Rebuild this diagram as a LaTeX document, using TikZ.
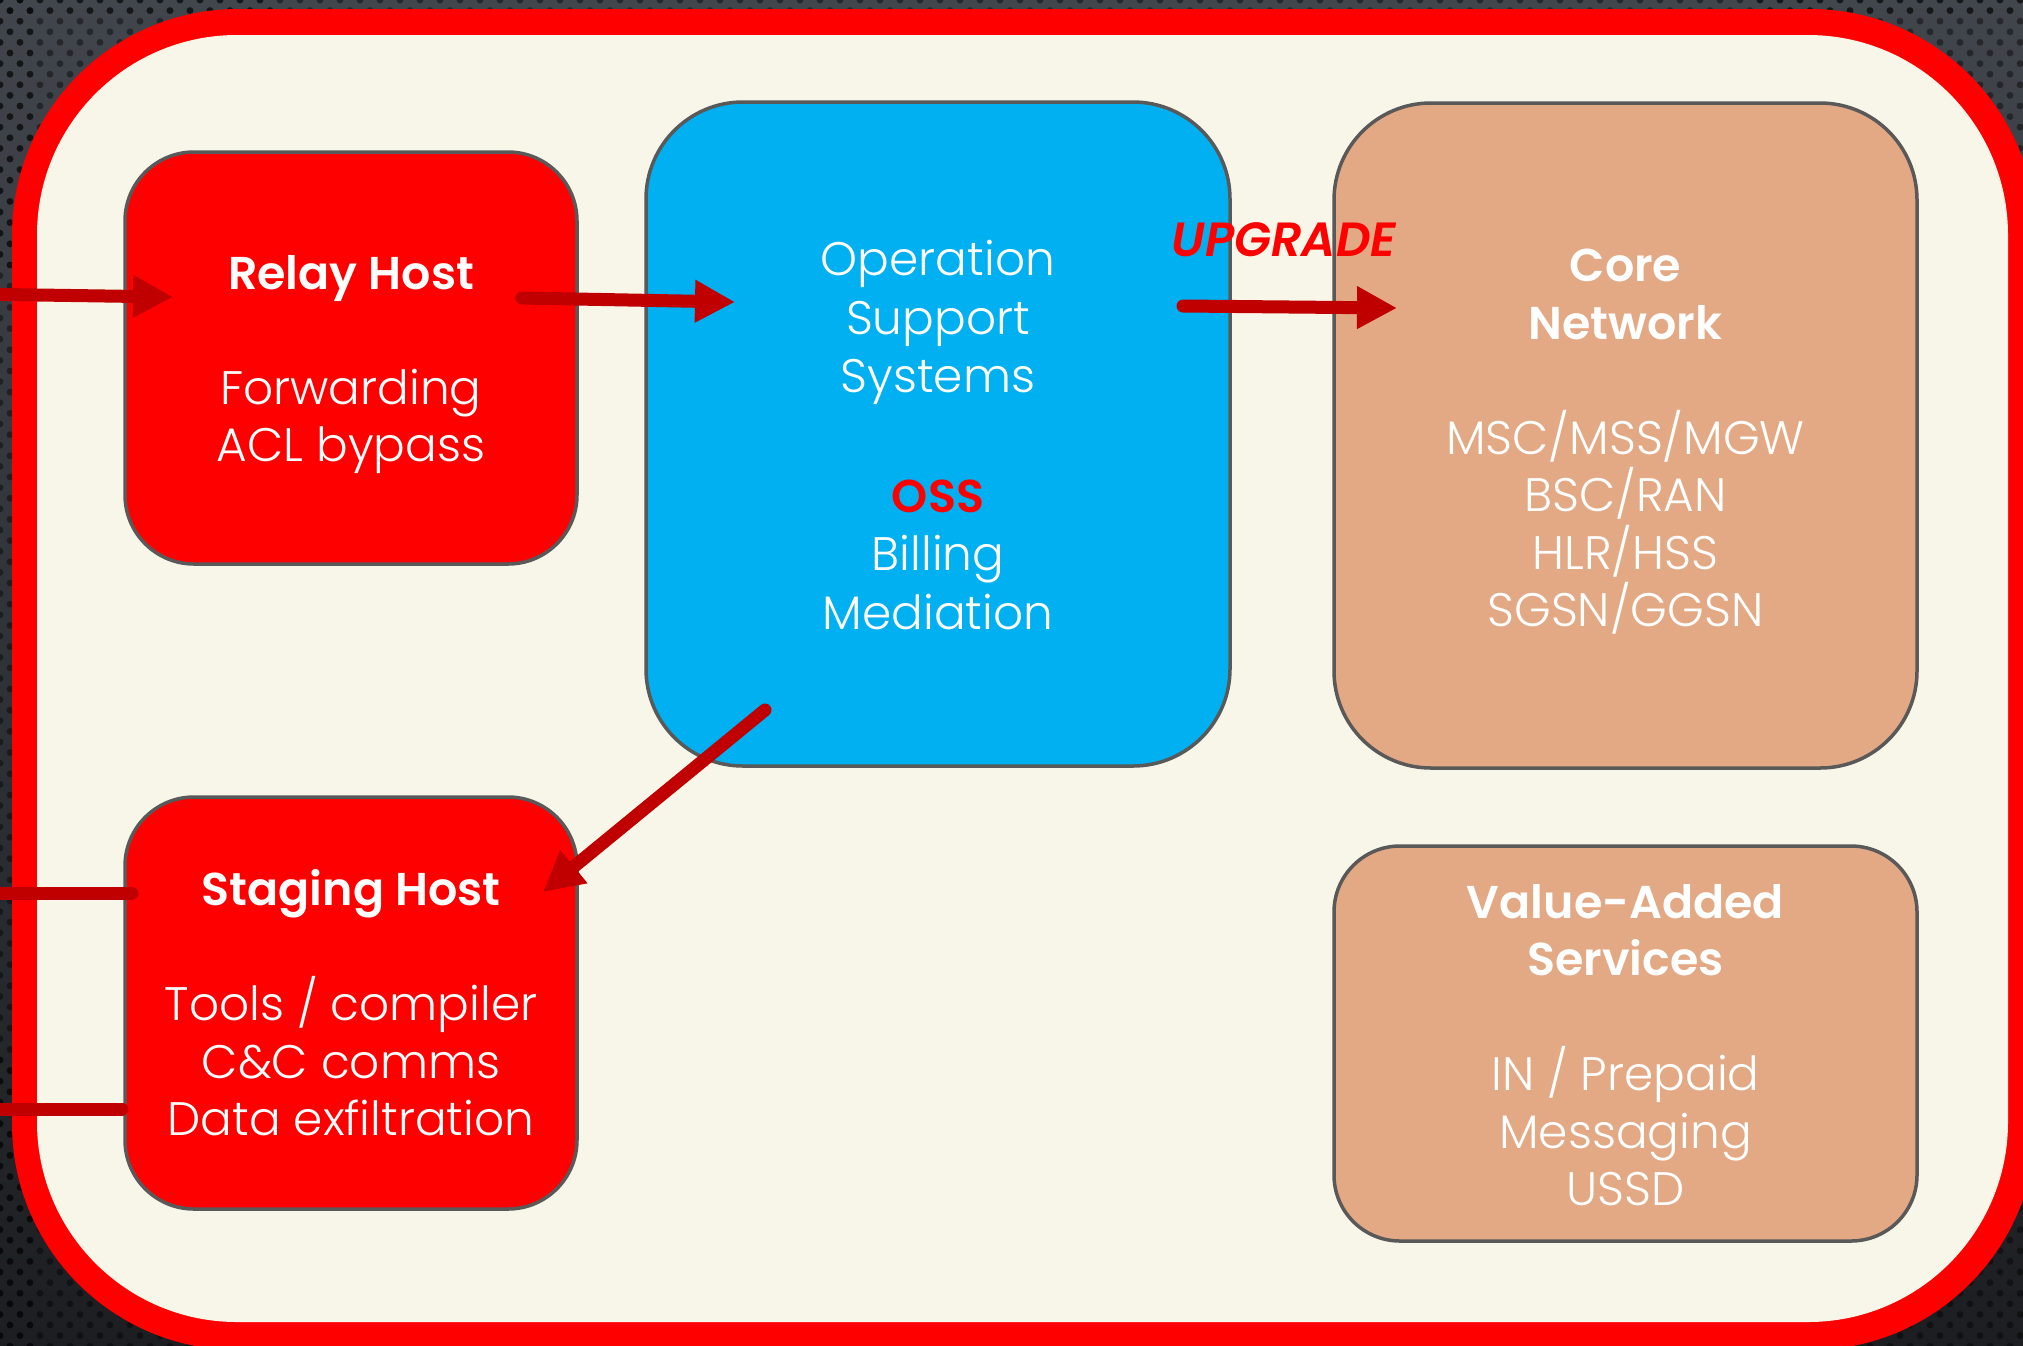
\documentclass[tikz,border=0pt]{standalone}
\usepackage{fontspec}
\setmainfont{Poppins}[UprightFont={* Light},BoldFont={* SemiBold},ItalicFont={* Light Italic},BoldItalicFont={* SemiBold Italic}]
\usetikzlibrary{arrows.meta}
\definecolor{bgtop}{HTML}{41454C}
\definecolor{bgbot}{HTML}{1C1E21}
\definecolor{framered}{HTML}{FF0000}
\definecolor{cream}{HTML}{F8F6E8}
\definecolor{boxred}{HTML}{FF0000}
\definecolor{ossblue}{HTML}{00B0F0}
\definecolor{tan}{HTML}{E3A985}
\definecolor{edge}{HTML}{595959}
\definecolor{arrowred}{HTML}{C00000}
\definecolor{labelred}{HTML}{FF0000}
\newcommand\dotfield[4]{\foreach \i in {#3,...,#4}{\foreach \j in {#1,...,#2}{\fill[black,opacity=.42] ({\j*20+mod(\i,2)*10},{\i*10.6}) circle[radius=3.4];}}}
\begin{document}
\begin{tikzpicture}[x=1pt,y=-1pt,
  box/.style={draw=edge, line width=3.5pt, inner sep=0pt},
  boxtext/.style={text=white, align=center, inner sep=0pt,
    font=\fontsize{47}{57.5}\selectfont},
  conn/.style={draw=arrowred, line width=13pt, line cap=round,
    -{Triangle[length=40pt,width=40pt]}},
  plainconn/.style={draw=arrowred, line width=13pt, line cap=round}]
\useasboundingbox (0,0) rectangle (2023,1345);
% background
\shade[top color=bgtop,bottom color=bgbot] (0,0) rectangle (2023,1345);
\dotfield{0}{101}{0}{1}
\dotfield{0}{1}{0}{127}
\dotfield{0}{13}{0}{25}
\dotfield{88}{101}{0}{25}
\dotfield{0}{13}{100}{127}
\dotfield{88}{101}{100}{127}
% frame
\fill[framered, rounded corners=226pt] (12,9) rectangle (2036,1350);
\fill[cream, rounded corners=200pt] (37,35) rectangle (2008,1322);
% boxes
\node[box, fill=boxred, minimum width=452pt, minimum height=412pt, rounded corners=69pt]
  (relay) at (351,358) {};
\node[box, fill=boxred, minimum width=452pt, minimum height=412pt, rounded corners=69pt]
  (staging) at (351,1003) {};
\node[box, fill=ossblue, minimum width=584pt, minimum height=664pt, rounded corners=97pt]
  (oss) at (938,434) {};
\node[box, fill=tan, minimum width=583pt, minimum height=665pt, rounded corners=97pt]
  (core) at (1625.5,435.5) {};
\node[box, fill=tan, minimum width=583pt, minimum height=395pt, rounded corners=66pt]
  (vas) at (1625.5,1043.5) {};
% box texts
\node[boxtext] (relaytxt) at ([yshift=-6.5pt]relay.center)
  {{\fontsize{46}{57.5}\selectfont\bfseries Relay Host}\\[57.5pt]Forwarding\\ACL bypass};
\node[boxtext] (stagingtxt) at (staging.center)
  {{\fontsize{46}{57.5}\selectfont\bfseries Staging Host}\\[57.5pt]Tools / compiler\\C\&C comms\\Data exfiltration};
\node[boxtext, font=\fontsize{47}{58.5}\selectfont] (osstxt) at ([yshift=-1pt]oss.center)
  {Operation\\Support\\Systems\\[61pt]{\color{labelred}\fontsize{46}{58.5}\selectfont\bfseries OSS}\\Billing\\Mediation};
\node[boxtext] (coretxt) at ([yshift=-6.5pt]core.center)
  {{\fontsize{46}{57.5}\selectfont\bfseries Core}\\{\fontsize{46}{57.5}\selectfont\bfseries Network}\\[57.5pt]MSC/MSS/MGW\\BSC/RAN\\HLR/HSS\\SGSN/GGSN};
\node[boxtext] (vastxt) at ([yshift=-1.5pt]vas.center)
  {{\fontsize{46}{57.5}\selectfont\bfseries Value-Added}\\{\fontsize{46}{57.5}\selectfont\bfseries Services}\\[57.5pt]IN / Prepaid\\Messaging\\USSD};
\node[text=labelred, font=\fontsize{48}{58}\selectfont\bfseries\itshape, inner sep=0pt]
  (upgrade) at (1284,240) {UPGRADE};
% connector end points
\coordinate (inrelay) at (-30,294);
\coordinate (relayin) at (173,297);
\coordinate (relayout) at (522,298);
\coordinate (ossin) at (735,302);
\coordinate (ossout) at (1183,306);
\coordinate (corein) at (1397,308);
\coordinate (ossdown) at (765,710);
\coordinate (stagingin) at (543,892);
\coordinate (instagA) at (-30,893);
\coordinate (stagA) at (132,893);
\coordinate (instagB) at (-30,1109);
\coordinate (stagB) at (122,1109);
% connectors
\draw[conn] (inrelay) -- (relayin);
\draw[conn] (relayout) -- (ossin);
\draw[conn] (ossout) -- (corein);
\draw[conn] (ossdown) -- (stagingin);
\draw[plainconn] (instagA) -- (stagA);
\draw[plainconn] (instagB) -- (stagB);
\end{tikzpicture}
\end{document}
